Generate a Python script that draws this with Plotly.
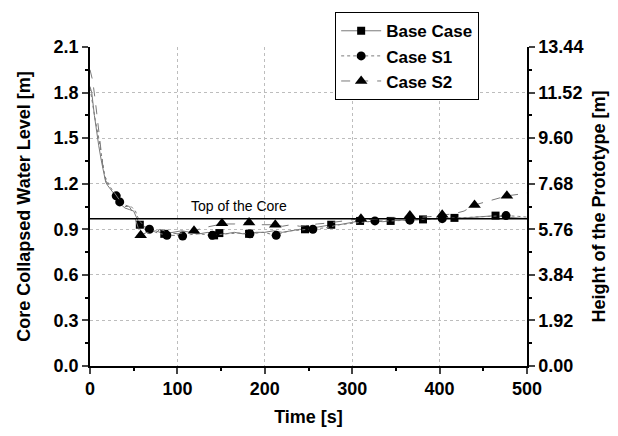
import plotly.graph_objects as go

# ---- data ----
base_t = [0, 2, 5, 8, 10, 13, 16, 18, 20, 24, 28, 32, 36, 40, 45, 50, 53, 57, 62, 68, 75, 85, 95, 105, 115, 125, 135,
          142, 148, 155, 165, 175, 182, 190, 200, 210, 220, 230, 240, 246, 255, 265, 276, 285, 295, 309, 318, 326, 335,
          344, 355, 366, 381, 395, 405, 417, 430, 445, 464, 476, 490, 500]
base_y = [1.84, 1.80, 1.65, 1.52, 1.45, 1.35, 1.25, 1.21, 1.19, 1.16, 1.13, 1.10, 1.06, 1.04, 1.03, 1.02, 0.98, 0.93,
          0.91, 0.88, 0.89, 0.87, 0.88, 0.89, 0.88, 0.87, 0.88, 0.86, 0.875, 0.87, 0.88, 0.87, 0.87, 0.88, 0.88, 0.89,
          0.88, 0.89, 0.90, 0.90, 0.91, 0.92, 0.93, 0.93, 0.94, 0.955, 0.95, 0.955, 0.95, 0.955, 0.96, 0.96, 0.965,
          0.97, 0.97, 0.975, 0.975, 0.98, 0.99, 0.98, 0.975, 0.97]
base_mt = [57, 85, 142, 148, 182, 246, 276, 309, 344, 381, 417, 464]
base_my = [0.93, 0.87, 0.86, 0.875, 0.87, 0.90, 0.93, 0.955, 0.955, 0.965, 0.975, 0.99]

s1_t = [0, 3, 6, 10, 13, 17, 22, 30, 34, 40, 47, 52, 56, 62, 68, 75, 88, 97, 106, 115, 125, 140, 155, 170, 183, 198,
        213, 222, 230, 240, 255, 270, 285, 300, 313, 326, 345, 366, 385, 403, 420, 440, 460, 476, 490, 500]
s1_y = [1.83, 1.72, 1.62, 1.50, 1.40, 1.25, 1.19, 1.12, 1.08, 1.05, 1.05, 1.02, 0.96, 0.92, 0.90, 0.88, 0.86, 0.86,
        0.855, 0.865, 0.87, 0.86, 0.87, 0.875, 0.87, 0.88, 0.86, 0.88, 0.89, 0.895, 0.90, 0.91, 0.93, 0.94, 0.95,
        0.955, 0.955, 0.96, 0.965, 0.97, 0.975, 0.98, 0.985, 0.99, 0.985, 0.98]
s1_mt = [30, 34, 68, 88, 106, 140, 183, 213, 255, 326, 366, 403, 476]
s1_my = [1.12, 1.08, 0.90, 0.86, 0.855, 0.86, 0.87, 0.86, 0.90, 0.955, 0.96, 0.97, 0.99]

s2_t = [0, 3, 6, 9, 12, 15, 18, 22, 28, 34, 40, 45, 50, 54, 58, 65, 72, 80, 90, 100, 110, 119, 130, 140, 151, 165,
        182, 195, 205, 212, 220, 230, 240, 250, 260, 270, 285, 300, 310, 320, 335, 350, 366, 380, 393, 403, 415, 428,
        440, 452, 465, 477, 490, 500]
s2_y = [1.95, 1.88, 1.75, 1.60, 1.45, 1.30, 1.22, 1.18, 1.14, 1.09, 1.06, 1.05, 1.00, 0.93, 0.86, 0.88, 0.86, 0.90,
        0.88, 0.87, 0.88, 0.89, 0.91, 0.92, 0.935, 0.935, 0.945, 0.93, 0.93, 0.93, 0.92, 0.93, 0.92, 0.93, 0.935,
        0.94, 0.95, 0.96, 0.97, 0.965, 0.97, 0.975, 0.99, 0.98, 0.985, 0.995, 1.00, 1.02, 1.06, 1.08, 1.10, 1.12,
        1.13, 1.14]
s2_mt = [58, 119, 151, 182, 212, 310, 366, 403, 440, 477]
s2_my = [0.86, 0.89, 0.94, 0.945, 0.93, 0.97, 0.99, 0.995, 1.06, 1.12]

core_top = 0.97
core_label = "Top of the Core"
x_ticks = [0, 100, 200, 300, 400, 500]
y_ticks = [0.0, 0.3, 0.6, 0.9, 1.2, 1.5, 1.8, 2.1]
y2_ticks = [0.00, 1.92, 3.84, 5.76, 7.68, 9.60, 11.52, 13.44]
series_names = ["Base Case", "Case S1", "Case S2"]

FONT = "Liberation Sans, Arial, sans-serif"
LINE_COL = "#7a7a7a"

fig = go.Figure()

series = [
    (base_t, base_y, base_mt, base_my, "square", "solid", 8),
    (s1_t, s1_y, s1_mt, s1_my, "circle", "dot", 9),
    (s2_t, s2_y, s2_mt, s2_my, "triangle-up", "dash", 11),
]
for name, (t, y, mt, my, sym, dash, msz) in zip(series_names, series):
    fig.add_trace(go.Scatter(x=t, y=y, mode="lines", line=dict(color=LINE_COL, width=1, dash=dash),
                             showlegend=False, hoverinfo="skip"))
    fig.add_trace(go.Scatter(x=mt, y=my, mode="markers",
                             marker=dict(symbol=sym, size=msz, color="black"), showlegend=False))
    fig.add_trace(go.Scatter(x=[None], y=[None], mode="lines+markers", name=name,
                             line=dict(color=LINE_COL, width=1, dash=dash),
                             marker=dict(symbol=sym, size=msz, color="black")))

fig.add_trace(go.Scatter(x=[x_ticks[0], x_ticks[-1]], y=[core_top, core_top], mode="lines",
                         line=dict(color="black", width=1.5), showlegend=False))
fig.add_annotation(x=170, y=core_top, yshift=13, text=core_label, showarrow=False,
                   font=dict(family=FONT, size=14, color="black"))

# invisible trace to make the right axis exist
fig.add_trace(go.Scatter(x=[x_ticks[0]], y=[y2_ticks[0]], yaxis="y2", mode="markers",
                         marker=dict(opacity=0), showlegend=False, hoverinfo="skip"))

tick_font = dict(family=FONT, size=18, color="black", weight="bold")
title_font = dict(family=FONT, size=18, color="black", weight="bold")

fig.update_layout(
    width=618, height=436,
    margin=dict(l=90, r=88, t=39, b=68),
    plot_bgcolor="white", paper_bgcolor="white",
    xaxis=dict(range=[0, 500], tickvals=x_ticks, ticks="outside", ticklen=6, tickwidth=1.5,
               showline=True, linecolor="black", linewidth=1.5, zeroline=False,
               showgrid=True, gridcolor="#bdbdbd", griddash="dot", gridwidth=1,
               minor=dict(dtick=50, ticks="outside", ticklen=3, tickcolor="black", showgrid=False),
               tickfont=tick_font, title=dict(text="Time [s]", font=title_font, standoff=12)),
    yaxis=dict(range=[0, 2.1], tickvals=y_ticks, ticktext=[f"{v:.1f}" for v in y_ticks],
               ticks="outside", ticklen=6, tickwidth=1.5,
               showline=True, linecolor="black", linewidth=1.5, zeroline=False,
               showgrid=True, gridcolor="#bdbdbd", griddash="dot", gridwidth=1,
               minor=dict(dtick=0.15, ticks="outside", ticklen=3, tickcolor="black", showgrid=False),
               tickfont=tick_font,
               title=dict(text="Core Collapsed Water Level [m]", font=title_font, standoff=18)),
    yaxis2=dict(range=[0, 13.44], overlaying="y", side="right", anchor="x",
                tickvals=y2_ticks, ticktext=[f"{v:.2f}" for v in y2_ticks],
                ticks="outside", ticklen=6, tickwidth=1.5,
                showline=True, linecolor="black", linewidth=1.5, zeroline=False, showgrid=False,
                minor=dict(dtick=0.96, ticks="outside", ticklen=3, tickcolor="black"),
                tickfont=tick_font,
                title=dict(text="Height of the Prototype [m]", font=title_font, standoff=10)),
    legend=dict(x=0.561, y=1.109, xanchor="left", yanchor="top", bgcolor="white",
                bordercolor="black", borderwidth=1, font=dict(family=FONT, size=17, color="black", weight="bold"),
                tracegroupgap=0, itemwidth=40),
    showlegend=True,
)

fig.write_html("out.html")
